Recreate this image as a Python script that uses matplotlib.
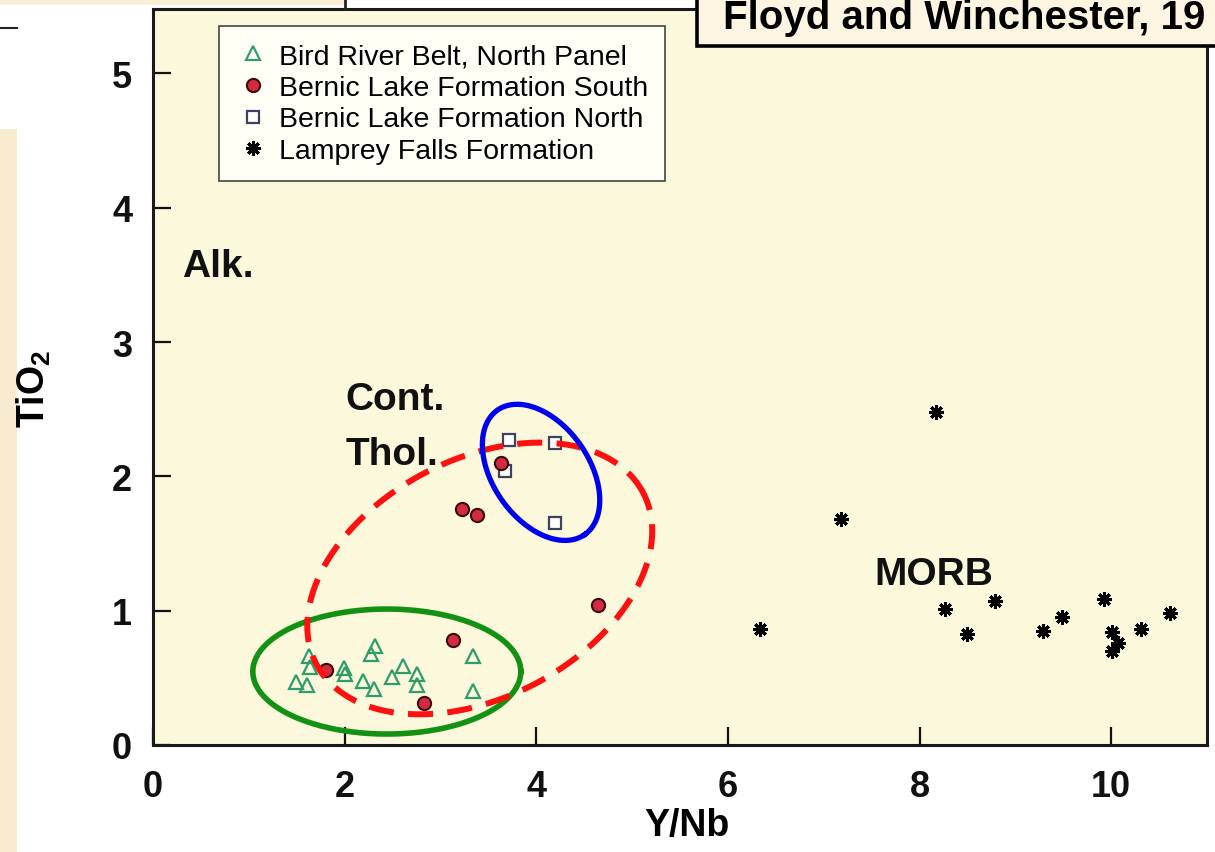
import numpy as np
import matplotlib
matplotlib.use("Agg")
import matplotlib.pyplot as plt
from matplotlib.patches import Rectangle

plt.rcParams['font.family'] = ['Liberation Sans', 'DejaVu Sans']
plt.rcParams['font.weight'] = 'bold'
plt.rcParams['mathtext.fontset'] = 'custom'
plt.rcParams['mathtext.rm'] = 'Liberation Sans:bold'
plt.rcParams['mathtext.bf'] = 'Liberation Sans:bold'

# data (Y/Nb, TiO2)
bird_x = [1.63, 1.64, 1.49, 1.61, 1.99, 2.00, 2.19, 2.31, 2.32, 2.28, 2.49, 2.61, 2.75, 2.76, 3.34, 3.34]
bird_y = [0.66, 0.58, 0.47, 0.45, 0.57, 0.53, 0.48, 0.42, 0.74, 0.68, 0.51, 0.59, 0.53, 0.45, 0.66, 0.40]

south_x = [1.81, 2.83, 3.13, 3.23, 3.38, 3.63, 4.64]
south_y = [0.56, 0.31, 0.78, 1.76, 1.71, 2.10, 1.04]

north_x = [3.72, 4.20, 3.67, 4.20]
north_y = [2.27, 2.25, 2.04, 1.65]

lamprey_x = [6.34, 7.18, 8.17, 8.27, 8.50, 8.79, 9.29, 9.49, 9.93, 10.01, 10.07, 10.01, 10.31, 10.61]
lamprey_y = [0.86, 1.68, 2.48, 1.01, 0.83, 1.07, 0.85, 0.95, 1.09, 0.84, 0.76, 0.70, 0.86, 0.98]

labels = ["Bird River Belt, North Panel", "Bernic Lake Formation South",
          "Bernic Lake Formation North", "Lamprey Falls Formation"]

W, H = 1215, 853
XMAX, YMAX = 11.0, 5.48
ax_l, ax_r, ax_t, ax_b = 153, 1207, 10, 746

fig = plt.figure(figsize=(W / 100, H / 100), dpi=100)
fig.patch.set_facecolor('white')


def fpx(x, y):
    return x / W, 1 - y / H


# slide leftovers around the chart
fig.add_artist(Rectangle(fpx(0, H), 17 / W, (H - 130) / H, transform=fig.transFigure,
                         facecolor='#f8ebcf', edgecolor='none', zorder=0))
fig.add_artist(Rectangle(fpx(0, 6), 345 / W, 6 / H, transform=fig.transFigure,
                         facecolor='#f8efd6', edgecolor='none', zorder=0))
fig.add_artist(plt.Line2D([0, 17 / W], [1 - 29 / H] * 2, transform=fig.transFigure,
                          color='#222222', lw=1.5))
fig.add_artist(plt.Line2D([345 / W] * 2, [1, 1 - 10 / H], transform=fig.transFigure,
                          color='#222222', lw=2))

ax = fig.add_axes([ax_l / W, 1 - ax_b / H, (ax_r - ax_l) / W, (ax_b - ax_t) / H])
ax.set_facecolor('#fbf8dc')
ax.set_xlim(0, XMAX)
ax.set_ylim(0, YMAX)

ax.plot(bird_x, bird_y, '^', ms=10, mfc='none', mec='#2f9c6b', mew=1.6,
        ls='none', label=labels[0], zorder=3)
ax.plot(south_x, south_y, 'o', ms=9.5, mfc='#d42a3e', mec='#3a0a10', mew=1.5,
        ls='none', label=labels[1], zorder=5)
ax.plot(north_x, north_y, 's', ms=9, mfc='white', mec='#40405e', mew=1.6,
        ls='none', label=labels[2], zorder=4)
ax.plot(lamprey_x, lamprey_y, marker=(8, 2, 0), ms=10.5, mec='black', mew=2.2,
        ls='none', color='black', label=labels[3], zorder=3)

# hand-drawn grouping ellipses (given in pixels on screen, converted to data units)
sx = (ax_r - ax_l) / XMAX
sy = (ax_b - ax_t) / YMAX
t = np.linspace(0, 2 * np.pi, 400)


def ring(cx, cy, a, b, ang, **kw):
    th = np.deg2rad(ang)
    ex = cx + (a * np.cos(t) * np.cos(th) - b * np.sin(t) * np.sin(th)) / sx
    ey = cy + (a * np.cos(t) * np.sin(th) + b * np.sin(t) * np.cos(th)) / sy
    ax.plot(ex, ey, **kw)


ring(2.44, 0.547, 134, 62.5, 0, color='#129112', lw=4, zorder=6)
ring(3.41, 1.24, 184.5, 119, 27.7, color='#ff1010', lw=4.3,
     ls=(0, (4.2, 2.4)), dash_capstyle='butt', zorder=7)
ring(4.05, 2.03, 76, 48, -55, color='#0000f0', lw=3.8, zorder=8)

txt = dict(fontsize=28, fontweight='bold', color='#111111', ha='left', va='baseline')
ax.text(0.30, 3.49, "Alk.", **txt)
ax.text(2.01, 2.50, "Cont.", **txt)
ax.text(2.01, 2.09, "Thol.", **txt)
ax.text(7.53, 1.20, "MORB", **txt)

ax.set_xticks([0, 2, 4, 6, 8, 10])
ax.set_yticks([0, 1, 2, 3, 4, 5])
ax.tick_params(direction='in', length=13, width=1.6, labelsize=26, colors='#111111')
ax.tick_params(axis='y', pad=15)
ax.tick_params(axis='x', pad=17)
for s in ax.spines.values():
    s.set_linewidth(2.2)
    s.set_color('#1a1a1a')

ax.set_xlabel("Y/Nb", fontsize=27, fontweight='bold')
ax.xaxis.set_label_coords(0.507, -0.084)
ax.set_ylabel(r"TiO$_\mathbf{2}$", fontsize=27, fontweight='bold')
ax.yaxis.set_label_coords(-0.095, 0.485)

leg = ax.legend(loc='upper left', bbox_to_anchor=((219 - ax_l) / (ax_r - ax_l), (ax_b - 27) / (ax_b - ax_t)),
                borderaxespad=0, prop={'weight': 'normal', 'size': 20.5}, fancybox=False,
                handlelength=1.2, handletextpad=0.3, borderpad=0.6, labelspacing=0.2,
                framealpha=1, facecolor='#fffff6', edgecolor='#444444')
leg.get_frame().set_linewidth(1.2)
leg.set_zorder(10)

# source box at the top right
fig.add_artist(Rectangle(fpx(697, 47), 600 / W, 60 / H, transform=fig.transFigure,
                         facecolor='#fdf5e2', edgecolor='black', lw=2.6, zorder=20))
fig.text(723 / W, 1 - 18 / H, "Floyd and Winchester, 19", fontsize=29, fontweight='bold',
         ha='left', va='center', zorder=21)

fig.savefig("out.png", dpi=100)
